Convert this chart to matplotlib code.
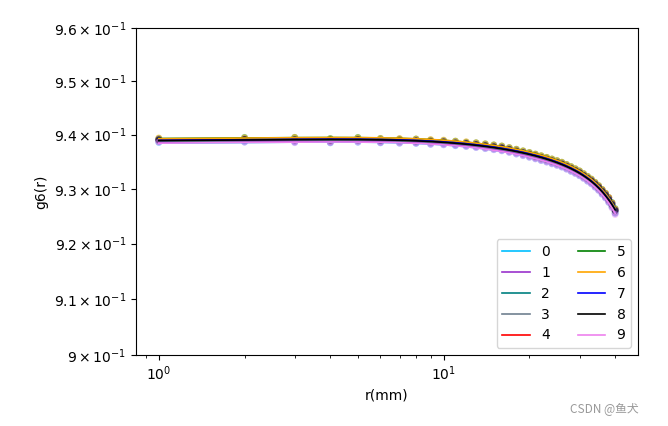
import numpy as np
import matplotlib
matplotlib.use("Agg")
import matplotlib.pyplot as plt

# r = 1..40 mm
r = list(range(1, 41))

g0 = [.93855, .93862, .93858, .93848, .93860, .93848, .93843, .93838, .93822, .93814,
      .93795, .93783, .93764, .93743, .93724, .93703, .93675, .93643, .93614, .93583,
      .93555, .93522, .93495, .93462, .93435, .93402, .93365, .93322, .93285, .93242,
      .93195, .93142, .93095, .93032, .92975, .92902, .92835, .92752, .92665, .92550]
g1 = [.9387, .9388, .9387, .9386, .9388, .9386, .9386, .9385, .9384, .9383,
      .9381, .9380, .9378, .9376, .9374, .9372, .9369, .9366, .9363, .9360,
      .9357, .9354, .9351, .9348, .9345, .9342, .9338, .9334, .9330, .9326,
      .9321, .9316, .9311, .9305, .9299, .9292, .9285, .9277, .9268, .9256]
g2 = [.9390, .9390, .9391, .9389, .9390, .9389, .9389, .9388, .9387, .9386,
      .9384, .9383, .9381, .9379, .9377, .9375, .9372, .9369, .9366, .9363,
      .9360, .9357, .9354, .9351, .9348, .9345, .9341, .9337, .9333, .9329,
      .9324, .9319, .9314, .9308, .9302, .9295, .9288, .9280, .9271, .9260]
g3 = [.9389, .9389, .9390, .9388, .9389, .9389, .9388, .9387, .9386, .9385,
      .9383, .9382, .9380, .9378, .9376, .9374, .9371, .9368, .9365, .9362,
      .9359, .9356, .9353, .9350, .9347, .9344, .9340, .9336, .9332, .9328,
      .9323, .9318, .9313, .9307, .9301, .9294, .9287, .9279, .9270, .9259]
g4 = [.9391, .9392, .9391, .9390, .9391, .9390, .9390, .9389, .9388, .9387,
      .9385, .9384, .9382, .9380, .9378, .9376, .9373, .9370, .9367, .9364,
      .9361, .9358, .9355, .9352, .9349, .9346, .9342, .9338, .9334, .9330,
      .9325, .9320, .9316, .9310, .9304, .9298, .9291, .9284, .9274, .9262]
g5 = [.9393, .9395, .9395, .9393, .9395, .9393, .9392, .9392, .9390, .9389,
      .9388, .9386, .9385, .9383, .9381, .9379, .9376, .9373, .9370, .9367,
      .9364, .9361, .9358, .9355, .9352, .9349, .9345, .9341, .9337, .9333,
      .9328, .9323, .9318, .9312, .9306, .9299, .9292, .9284, .9275, .9264]
g6 = [.9394, .9394, .9395, .9392, .9394, .9393, .9393, .9392, .9391, .9390,
      .9388, .9387, .9385, .9383, .9381, .9379, .9376, .9373, .9370, .9367,
      .9364, .9361, .9358, .9355, .9352, .9349, .9345, .9341, .9337, .9333,
      .9328, .9323, .9318, .9312, .9306, .9299, .9292, .9284, .9274, .9263]
g7 = [.9391, .9391, .9391, .9390, .9391, .9390, .9390, .9389, .9388, .9387,
      .9385, .9384, .9382, .9380, .9378, .9376, .9373, .9370, .9367, .9364,
      .9361, .9358, .9355, .9352, .9349, .9346, .9342, .9338, .9334, .9330,
      .9325, .9320, .9315, .9309, .9303, .9296, .9289, .9281, .9272, .9261]
g8 = [.9390, .9391, .9390, .9390, .9391, .9389, .9389, .9388, .9387, .9386,
      .9384, .9383, .9381, .9379, .9377, .9375, .9372, .9369, .9366, .9363,
      .9360, .9357, .9354, .9351, .9348, .9345, .9341, .9337, .9333, .9329,
      .9324, .9319, .9314, .9308, .9302, .9295, .9288, .9280, .9271, .9260]
g9 = [.9386, .9386, .9385, .9385, .9386, .9385, .9384, .9384, .9382, .9381,
      .9380, .9378, .9376, .9374, .9372, .9370, .9367, .9364, .9361, .9358,
      .9355, .9352, .9349, .9346, .9343, .9340, .9336, .9332, .9328, .9324,
      .9319, .9314, .9309, .9303, .9297, .9290, .9283, .9275, .9265, .9253]

series = [g0, g1, g2, g3, g4, g5, g6, g7, g8, g9]
labels = [str(i) for i in range(10)]
colors = ['deepskyblue', 'darkorchid', 'teal', 'slategray', 'red',
          'green', 'orange', 'blue', 'black', 'violet']
yticks = [0.90, 0.91, 0.92, 0.93, 0.94, 0.95, 0.96]

fig = plt.figure(figsize=(6.68, 4.26), dpi=100)
ax = fig.add_axes([0.2036, 0.1667, 0.7514, 0.7676])

rr = np.array(r)
for g, lab, c in zip(series, labels, colors):
    ax.scatter(r, g, color=c, s=24, alpha=0.45, edgecolors='none')
    # smooth fit through the points
    p = np.polyfit(rr, g, 4)
    ax.plot(rr, np.polyval(p, rr), color=c, label=lab, lw=1.2)

ax.set_xscale('log')
ax.set_yscale('log')
ax.set_ylim(0.90, 0.96)
ax.set_yticks(yticks)
ax.yaxis.set_minor_locator(matplotlib.ticker.NullLocator())
ax.set_xlabel('r(mm)')
ax.set_ylabel('g6(r)')
ax.legend(loc='lower right', ncol=2)

fig.text(0.956, 0.025, 'CSDN @鱼犬', ha='right', va='bottom', fontsize=8.5,
         color='#999999', family=['Noto Sans CJK SC', 'DejaVu Sans'])

plt.savefig('out.png', dpi=100)
